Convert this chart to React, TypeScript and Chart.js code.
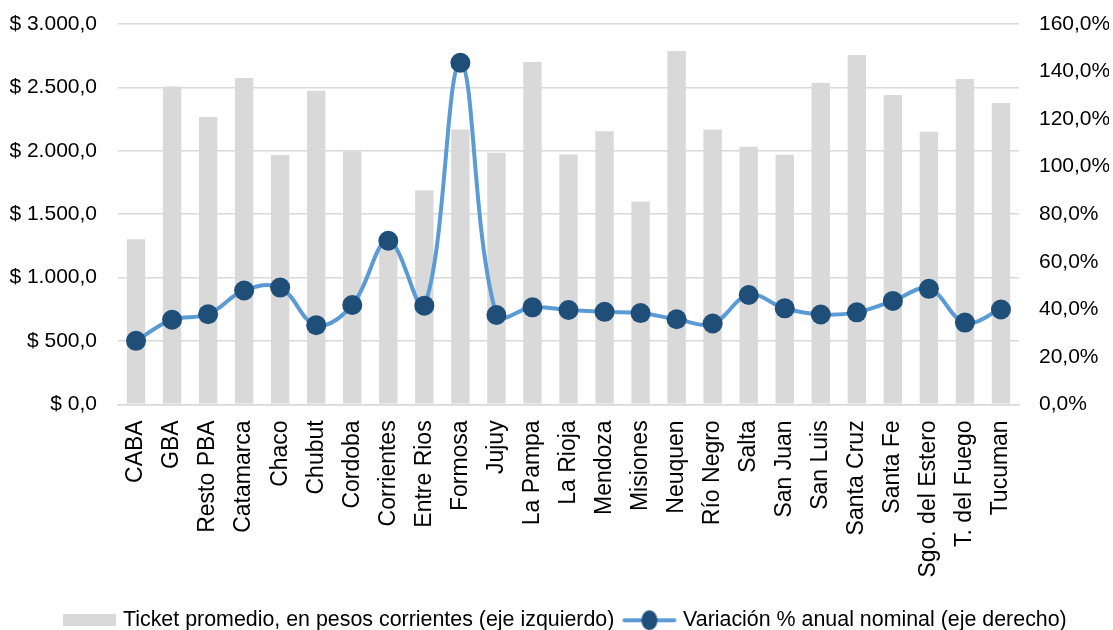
import React, { useEffect, useRef } from 'react';
import { Chart, registerables } from 'chart.js';

Chart.register(...registerables);

const categories = ['CABA', 'GBA', 'Resto PBA', 'Catamarca', 'Chaco', 'Chubut', 'Cordoba', 'Corrientes', 'Entre Rios', 'Formosa', 'Jujuy', 'La Pampa', 'La Rioja', 'Mendoza', 'Misiones', 'Neuquen', 'Río Negro', 'Salta', 'San Juan', 'San Luis', 'Santa Cruz', 'Santa Fe', 'Sgo. del Estero', 'T. del Fuego', 'Tucuman'];
const ticketValues = [1303, 2508, 2266, 2574, 1966, 2474, 1997, 1280, 1687, 2168, 1984, 2700, 1971, 2155, 1600, 2787, 2168, 2032, 1969, 2537, 2755, 2439, 2150, 2566, 2376];
const variationValues = [26.7, 35.6, 37.9, 47.9, 49.1, 33.3, 41.8, 68.8, 41.5, 143.7, 37.6, 40.8, 39.7, 38.9, 38.4, 35.8, 34.0, 46.0, 40.4, 37.8, 38.7, 43.5, 48.6, 34.4, 39.9];
const barLabel = 'Ticket promedio, en pesos corrientes (eje izquierdo)';
const lineLabel = 'Variación % anual nominal (eje derecho)';
const leftAxis = { min: 0, max: 3000, step: 500 };
const rightAxis = { min: 0, max: 160, step: 20 };

const FONT = "'Liberation Sans', Arial, sans-serif";
const BAR_COLOR = '#d9d9d9';
const LINE_COLOR = '#5b9bd5';
const MARKER_COLOR = '#1f4e79';

function formatPesos(v: number): string {
  const fixed = Math.abs(v).toFixed(1);
  const [intPart, dec] = fixed.split('.');
  const withSep = intPart.replace(/\B(?=(\d{3})+(?!\d))/g, '.');
  return '$ ' + withSep + ',' + dec;
}

function formatPct(v: number): string {
  return v.toFixed(1).replace('.', ',') + '%';
}

function makeBarIcon(): HTMLCanvasElement {
  const c = document.createElement('canvas');
  c.width = 53;
  c.height = 12;
  const ctx = c.getContext('2d')!;
  ctx.fillStyle = BAR_COLOR;
  ctx.fillRect(0, 0, 53, 12);
  return c;
}

function makeLineIcon(): HTMLCanvasElement {
  const c = document.createElement('canvas');
  c.width = 56;
  c.height = 22;
  const ctx = c.getContext('2d')!;
  ctx.strokeStyle = LINE_COLOR;
  ctx.lineWidth = 4;
  ctx.lineCap = 'round';
  ctx.beginPath();
  ctx.moveTo(3, 11);
  ctx.lineTo(53, 11);
  ctx.stroke();
  ctx.fillStyle = MARKER_COLOR;
  ctx.beginPath();
  ctx.ellipse(28, 11, 8, 10, 0, 0, Math.PI * 2);
  ctx.fill();
  return c;
}

const legendShift = {
  id: 'legendShift',
  afterLayout(chart: any) {
    const l = chart.legend;
    if (l) {
      l.left += 7;
      l.right += 7;
    }
  },
};

export default function App() {
  const canvasRef = useRef<HTMLCanvasElement | null>(null);

  useEffect(() => {
    document.body.style.margin = '0';
    document.body.style.overflow = 'hidden';
    const canvas = canvasRef.current;
    if (!canvas) return;
    const barIcon = makeBarIcon();
    const lineIcon = makeLineIcon();

    const chart = new Chart(canvas, {
      type: 'bar',
      data: {
        labels: categories,
        datasets: [
          {
            type: 'line',
            label: lineLabel,
            data: variationValues,
            yAxisID: 'y1',
            borderColor: LINE_COLOR,
            borderWidth: 4,
            backgroundColor: MARKER_COLOR,
            pointBackgroundColor: MARKER_COLOR,
            pointBorderColor: MARKER_COLOR,
            pointBorderWidth: 0,
            pointRadius: 10,
            tension: 0.38,
            order: 0,
          } as any,
          {
            type: 'bar',
            label: barLabel,
            data: ticketValues,
            yAxisID: 'y',
            backgroundColor: BAR_COLOR,
            categoryPercentage: 1,
            barPercentage: 0.51,
            order: 1,
          } as any,
        ],
      },
      plugins: [legendShift as any],
      options: {
        responsive: false,
        maintainAspectRatio: false,
        animation: false,
        layout: { padding: { left: 10, right: 4, top: 24, bottom: -11 } },
        plugins: {
          tooltip: { enabled: false },
          legend: {
            position: 'bottom',
            labels: {
              color: '#000',
              font: { family: FONT, size: 21.4 },
              usePointStyle: true,
              pointStyleWidth: 46,
              padding: 12,
              generateLabels: () => [
                { text: barLabel, pointStyle: barIcon, fillStyle: BAR_COLOR, strokeStyle: BAR_COLOR, lineWidth: 0, hidden: false, datasetIndex: 1, fontColor: '#000' } as any,
                { text: lineLabel, pointStyle: lineIcon, fillStyle: MARKER_COLOR, strokeStyle: MARKER_COLOR, lineWidth: 0, hidden: false, datasetIndex: 0, fontColor: '#000' } as any,
              ],
            },
          },
        },
        scales: {
          x: {
            grid: { display: false, drawTicks: false },
            border: { display: true, color: '#d9d9d9', width: 1.5 },
            afterFit: (scale: any) => { scale.height = scale.height + 4; },
            ticks: {
              color: '#000',
              font: { family: FONT, size: 23 },
              maxRotation: 90,
              minRotation: 90,
              autoSkip: false,
              padding: 16,
            },
          },
          y: {
            position: 'left',
            min: leftAxis.min,
            max: leftAxis.max,
            grid: { color: '#d9d9d9', lineWidth: 1.5, drawTicks: false },
            border: { display: false },
            afterFit: (scale: any) => { scale.width = 108; scale.paddingTop = 12; scale.paddingBottom = 12; },
            ticks: {
              stepSize: leftAxis.step,
              color: '#000',
              font: { family: FONT, size: 21 },
              padding: 21,
              callback: (v: any) => formatPesos(Number(v)),
            },
          },
          y1: {
            position: 'right',
            min: rightAxis.min,
            max: rightAxis.max,
            grid: { display: false, drawTicks: false },
            border: { display: false },
            afterFit: (scale: any) => { scale.width = 90; scale.paddingTop = 12; scale.paddingBottom = 12; },
            ticks: {
              stepSize: rightAxis.step,
              color: '#000',
              font: { family: FONT, size: 21 },
              padding: 20,
              callback: (v: any) => formatPct(Number(v)),
            },
          },
        },
      },
    });
    return () => chart.destroy();
  }, []);

  return (
    <div style={{ width: 1113, height: 630, position: 'relative', overflow: 'hidden' }}>
      <canvas ref={canvasRef} width={1113} height={630} style={{ display: 'block', width: 1113, height: 630 }} />
    </div>
  );
}
